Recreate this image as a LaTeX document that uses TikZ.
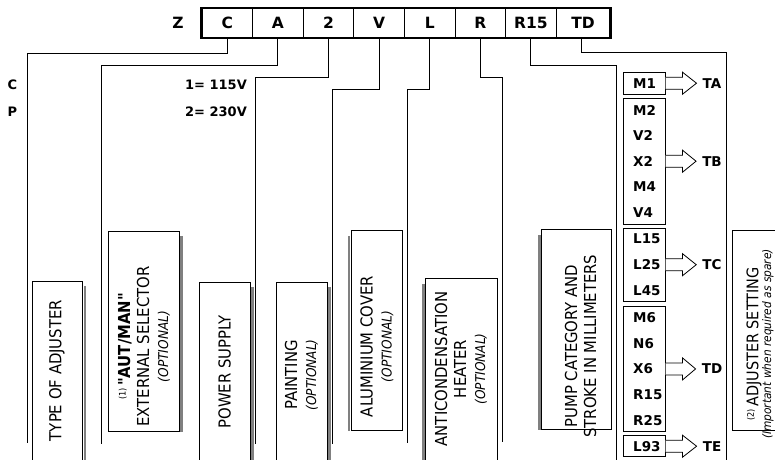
\documentclass[tikz,border=0pt]{standalone}
\usepackage{fontspec}
\setmainfont{DejaVu Sans}
\newfontfamily\cond{DejaVu Sans Condensed}
\usetikzlibrary{calc}
\begin{document}
\begin{tikzpicture}[x=1pt,y=-1pt,
  cell/.style={draw, line width=0.8pt, minimum height=29pt, minimum width=50.6pt, inner sep=0pt, font=\fontsize{15.5}{15.5}\selectfont\bfseries},
  lead/.style={line width=0.9pt},
  vbox/.style={draw, line width=0.9pt, fill=white, anchor=north west, inner sep=0pt, minimum height=200pt},
  vt/.style={rotate=90, align=center, inner sep=0pt, font=\cond\fontsize{16.5}{19}\selectfont},
  opt/.style={font=\cond\itshape\fontsize{13.5}{19}\selectfont},
  lst/.style={draw, line width=0.9pt, inner sep=0pt, align=left, text width=22pt, minimum width=41.7pt, font=\fontsize{13.5}{25.6}\selectfont\bfseries},
  lab/.style={inner sep=0pt, font=\fontsize{13}{13}\selectfont\bfseries},
  shd/.style={fill=black!50, draw=none},
  blk/.style={line width=0.8pt, fill=white, line join=miter}
]
\useasboundingbox (0,0) rectangle (775,459);
\clip (0,0) rectangle (775,459);

% ---- code box ----
\node[lab, font=\fontsize{15.5}{15.5}\selectfont\bfseries] (z) at (178,23) {Z};
\node[cell] (cC)  at (227.3,23) {C};
\node[cell] (cA)  at (277.9,23) {A};
\node[cell] (c2)  at (328.5,23) {2};
\node[cell] (cV)  at (379.1,23) {V};
\node[cell] (cL)  at (429.7,23) {L};
\node[cell] (cR)  at (480.3,23) {R};
\node[cell] (cR15) at (530.9,23) {R15};
\node[cell, minimum width=53.8pt] (cTD) at (583.1,23) {TD};
\draw[line width=2.5pt] (cC.north west) rectangle (cTD.south east);

% ---- leader end points ----
\coordinate (eC) at (27,443);
\coordinate (eA) at (101,444);
\coordinate (e2) at (255,444);
\coordinate (eV) at (332,444);
\coordinate (eL) at (407,443);
\coordinate (eR) at (502,442);
\coordinate (eR15) at (616,462);
\coordinate (eTD) at (726,462);

\draw[lead] (cC.south) -- ++(0,15.5) -| (eC);
\draw[lead] (cA.south) -- ++(0,27.5) -| (eA);
\draw[lead] (c2.south) -- ++(0,40) -| (e2);
\draw[lead] (cV.south) -- ++(0,52) -| (eV);
\draw[lead] (cL.south) -- ++(0,52) -| (eL);
\draw[lead] (cR.south) -- ++(0,40) -| (eR);
\draw[lead] (cR15.south) -- ++(0,27.5) -| (eR15);
\draw[lead] ([xshift=-2pt]cTD.south) -- ++(0,14.5) -| (eTD);

% ---- left labels ----
\node[lab] (lC) at (12.5,85) {C};
\node[lab] (lP) at (12.5,112) {P};
\node[lab, anchor=east] (v1) at (247,85) {1= 115V};
\node[lab, anchor=east] (v2) at (247,112) {2= 230V};

% ---- vertical boxes ----
\node[vbox, minimum width=50.6pt] (b1) at (31.7,280.7) {};
\node[vbox, minimum width=70.7pt] (b2) at (108.3,231) {};
\node[vbox, minimum width=50.7pt] (b3) at (199.3,281.7) {};
\node[vbox, minimum width=50.7pt] (b4) at (276,281.7) {};
\node[vbox, minimum width=51pt] (b5) at (350.7,230) {};
\node[vbox, minimum width=71.7pt] (b6) at (425,278) {};
\node[vbox, minimum width=70pt] (b7) at (541,229.3) {};
\node[vbox, minimum width=70pt] (b8) at (732.3,230) {};

\fill[shd] ($(b1.north east)+(0.5,5)$) rectangle ($(b1.south east)+(3.2,0)$);
\fill[shd] ($(b2.north east)+(0.5,5)$) rectangle ($(b2.south east)+(3.2,0)$);
\fill[shd] ($(b3.north east)+(0.5,5)$) rectangle ($(b3.south east)+(3.2,0)$);
\fill[shd] ($(b4.north east)+(0.5,5)$) rectangle ($(b4.south east)+(3.2,0)$);
\fill[shd] ($(b5.north west)+(-0.5,6)$) rectangle ($(b5.south west)+(-3.2,0)$);
\fill[shd] ($(b6.north west)+(-0.5,6)$) rectangle ($(b6.south west)+(-3.2,0)$);
\fill[shd] ($(b7.north west)+(-0.5,6)$) rectangle ($(b7.south west)+(-3.2,0)$);

\node[vt] (t1) at (57,370.5) {TYPE OF ADJUSTER};
\node[vt] (t2) at (144,346.5) {{\fontsize{9}{9}\selectfont\raisebox{0.5em}{(1)}}\,{\bfseries "AUT/MAN"}\\EXTERNAL SELECTOR\\{\itshape\fontsize{13.5}{19}\selectfont (OPTIONAL)}};
\node[vt] (t3) at (224.5,372) {POWER SUPPLY};
\node[vt] (t4) at (301.5,375) {PAINTING\\{\itshape\fontsize{13.5}{19}\selectfont (OPTIONAL)}};
\node[vt] (t5) at (377,346.5) {ALUMINIUM COVER\\{\itshape\fontsize{13.5}{19}\selectfont (OPTIONAL)}};
\node[vt] (t6) at (461,369) {ANTICONDENSATION\\HEATER\\{\itshape\fontsize{13.5}{19}\selectfont (OPTIONAL)}};
\node[vt] (t7) at (580.5,346) {PUMP CATEGORY AND\\STROKE IN MILLIMETERS};
\node[vt, anchor=base, font=\cond\fontsize{16}{16}\selectfont] (t8) at (758.3,344) {{\fontsize{9}{9}\selectfont\raisebox{0.5em}{(2)}}\,ADJUSTER SETTING};
\node[vt, anchor=base, font=\cond\itshape\fontsize{11.8}{12}\selectfont] (t8i) at (771,344) {(Important when required as spare)};

% ---- code lists ----
\node[lst, minimum height=21.7pt] (la) at (644.2,83.2) {M1};
\node[lst, minimum height=125.7pt] (lb) at (644.2,161.2) {M2\\V2\\X2\\M4\\V4};
\node[lst, minimum height=72.7pt] (lc) at (644.2,264.7) {L15\\L25\\L45};
\node[lst, minimum height=125.7pt] (ld) at (644.2,368.9) {M6\\N6\\X6\\R15\\R25};
\node[lst, minimum height=21pt] (le) at (644.2,446.2) {L93};

\node[lab, font=\fontsize{13.5}{13.5}\selectfont\bfseries] (ta) at (712,83.2) {TA};
\node[lab, font=\fontsize{13.5}{13.5}\selectfont\bfseries] (tb) at (712,161.2) {TB};
\node[lab, font=\fontsize{13.5}{13.5}\selectfont\bfseries] (tc) at (712,264.7) {TC};
\node[lab, font=\fontsize{13.5}{13.5}\selectfont\bfseries] (td) at (712,368.9) {TD};
\node[lab, font=\fontsize{13.5}{13.5}\selectfont\bfseries] (te) at (712,446.2) {TE};

\foreach \b/\t in {la/ta, lb/tb, lc/tc, ld/td, le/te}{
  \draw[blk] ($(\b.east)+(0,6)$) -- ++(17,0) -- ++(0,5) -- ($(\t.west)+(-6,0)$) -- ($(\b.east)+(17,-11)$) -- ++(0,5) -- ($(\b.east)+(0,-6)$);
}
\end{tikzpicture}
\end{document}
